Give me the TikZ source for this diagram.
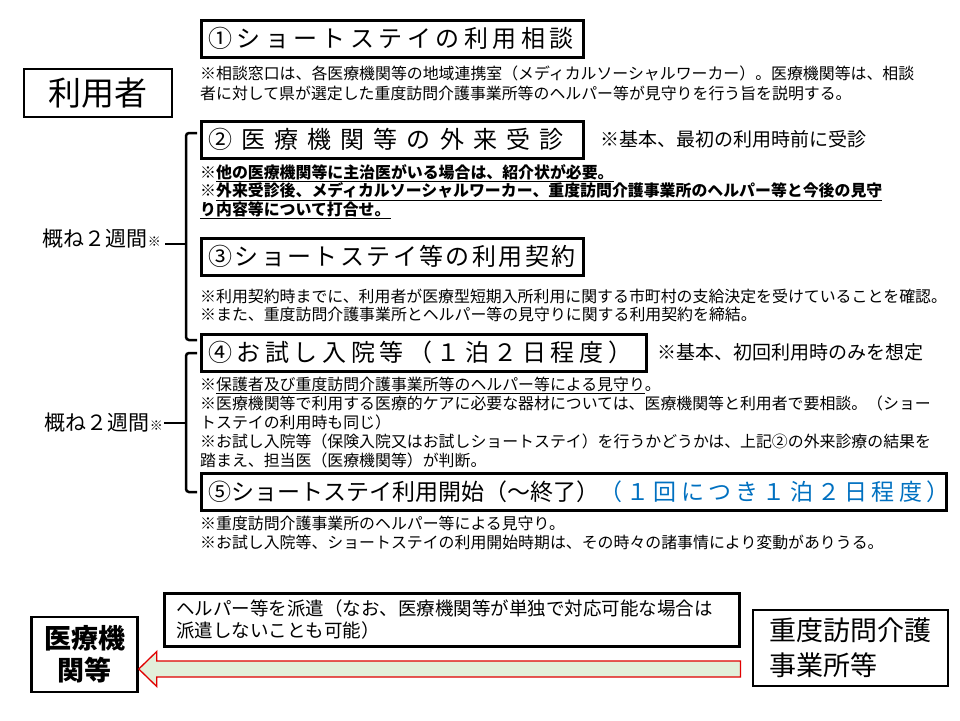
\documentclass[tikz,border=0pt]{standalone}
\usepackage{fontspec}
\setmainfont{Noto Sans CJK JP}
\usepackage{xcolor}
\usepackage{tikz}
\usetikzlibrary{arrows.meta,positioning,calc}
\definecolor{inkdark}{HTML}{000000}
\definecolor{planblue}{HTML}{0070C0}
\definecolor{arrowred}{HTML}{E00000}
\definecolor{arrowfill}{HTML}{E2EFDA}
\newcommand{\fs}[2]{\fontsize{#1}{#2}\selectfont}
\newcommand{\stepfont}[1]{\fontsize{24}{28}\selectfont\addfontfeatures{LetterSpace=#1}}

\begin{document}
\begin{tikzpicture}[x=1pt, y=-1pt,
  stepbox/.style={draw=inkdark, line width=2.5pt, anchor=north west, minimum height=37pt, inner xsep=7pt, inner ysep=0pt, align=left},
  note/.style={anchor=north west, inner sep=0pt, align=left},
  sidenote/.style={anchor=west, inner sep=0pt, font=\fs{19}{22}},
  party/.style={draw=inkdark, line width=2.5pt, inner sep=0pt},
  bracket/.style={draw=inkdark, line width=2.5pt, rounded corners=3pt},
  span/.style={anchor=west, inner sep=0pt, font=\fs{21}{24}},
  blockarrow/.style={draw=arrowred, fill=arrowfill, line width=1.3pt, line join=miter}
]
  \useasboundingbox (0,0) rectangle (960,720);

  % user
  \node[party, minimum width=148pt, minimum height=48pt, font=\fs{33}{36}] (user) at (98,93) {利用者};

  % steps
  \node[stepbox, text width=368pt, font={\stepfont{18.5}}] (consult) at (200,19) {①ショートステイの利用相談};
  \node[note, font=\fs{15.9}{20}] (consultnote) at (200,66) {※相談窓口は、各医療機関等の地域連携室（メディカルソーシャルワーカー）。医療機関等は、相談\\者に対して県が選定した重度訪問介護事業所等のヘルパー等が見守りを行う旨を説明する。};

  \node[stepbox, text width=368pt, font={\stepfont{38}}] (visit) at (200,120) {②医療機関等の外来受診};
  \node[sidenote, right=16pt of visit] (visitside) {※基本、最初の利用時前に受診};
  \node[note, font=\fs{15.9}{18.5}\bfseries] (visitnote) at (200,164) {※\underline{他の医療機関等に主治医がいる場合は、紹介状が必要。}\\※\underline{外来受診後、メディカルソーシャルワーカー、重度訪問介護事業所のヘルパー等と今後の見守}\\\underline{り内容等について打合せ。}};

  \node[stepbox, text width=368pt, font={\stepfont{10}}] (contract) at (200,237) {③ショートステイ等の利用契約};
  \node[note, font=\fs{15.9}{17.5}] (contractnote) at (200,289) {※利用契約時までに、利用者が医療型短期入所利用に関する市町村の支給決定を受けていることを確認。\\※また、重度訪問介護事業所とヘルパー等の見守りに関する利用契約を締結。};

  \node[stepbox, text width=431pt, font={\stepfont{19}}] (trial) at (200,333) {④お試し入院等（１泊２日程度）};
  \node[sidenote, right=10pt of trial] (trialside) {※基本、初回利用時のみを想定};
  \node[note, font=\fs{15.9}{19}] (trialnote) at (200,377) {※\underline{保護者及び重度訪問介護事業所等のヘルパー等による見守り}。\\※医療機関等で利用する医療的ケアに必要な器材については、医療機関等と利用者で要相談。（ショー\\トステイの利用時も同じ）\\※お試し入院等（保険入院又はお試しショートステイ）を行うかどうかは、上記②の外来診療の結果を\\踏まえ、担当医（医療機関等）が判断。};

  \node[stepbox, text width=731pt, font=\fs{23}{28}] (start) at (200,472) {⑤ショートステイ利用開始（～終了）{\color{planblue}\addfontfeatures{LetterSpace=18.5}（１回につき１泊２日程度）}};
  \node[note, font=\fs{15.9}{19}] (startnote) at (200,516) {※重度訪問介護事業所のヘルパー等による見守り。\\※お試し入院等、ショートステイの利用開始時期は、その時々の諸事情により変動がありうる。};

  % periods
  \draw[bracket] (197,133) -- (186,133) -- (186,340) -- (197,340);
  \draw[bracket] (197,353) -- (186,353) -- (186,492) -- (197,492);
  \coordinate (tick1) at (186,244);
  \coordinate (tick2) at (186,423);
  \node[span, anchor=east] (span1) at (161,239) {概ね２週間{\fs{13}{15}※}};
  \node[span, anchor=east] (span2) at (163,423) {概ね２週間{\fs{13}{15}※}};
  \draw[bracket] (span1.east |- tick1) ++(4,0) -- (tick1);
  \draw[bracket] (span2.east |- tick2) ++(1,0) -- (tick2);

  % dispatch
  \node[party, anchor=north west, minimum height=53pt, inner xsep=12pt, text width=551pt, align=left, font=\fs{18.5}{22}] (dispatch) at (163,592) {ヘルパー等を派遣（なお、医療機関等が単独で対応可能な場合は\\派遣しないことも可能）};
  \node[party, minimum width=106pt, minimum height=75pt, align=center, font=\fs{27}{32}\bfseries] (hospital) at (84.5,654.5) {医療機\\関等};
  \node[party, minimum width=195pt, minimum height=76pt, inner xsep=12pt, align=left, font=\fs{27}{35}] (homecare) at (850.5,648) {重度訪問介護\\事業所等};

  \path (hospital.east) ++(0,14.5) coordinate (tip);
  \coordinate (tail) at (dispatch.east |- tip);
  \draw[blockarrow] (tip) -- ++(18,-17.5) -- ++(0,9.5) -- ($(tail)+(0,-8)$) -- ($(tail)+(0,8)$) -- ($(tip)+(18,8)$) -- ++(0,9.5) -- cycle;
\end{tikzpicture}
\end{document}
